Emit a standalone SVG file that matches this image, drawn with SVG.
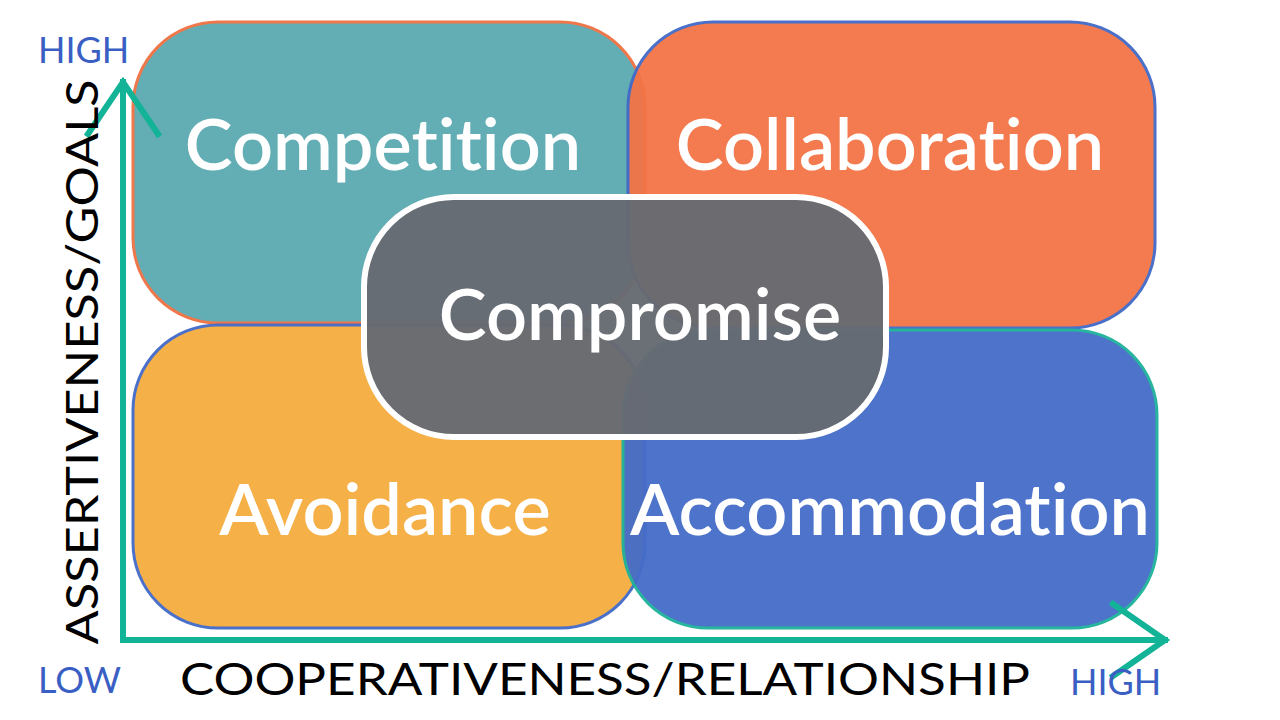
<svg xmlns="http://www.w3.org/2000/svg" width="1280" height="720" viewBox="0 0 1280 720">
<style>
.box{stroke-width:3;opacity:0.95}
.big{font-family:Lato,"Open Sans",sans-serif;font-size:72px;font-weight:600;fill:#fff;text-anchor:middle;font-variant-ligatures:none}
.ax{stroke:#13B398;stroke-width:6;fill:none;stroke-linecap:square}
.lbl{font-family:Lato,"Open Sans",sans-serif;font-size:44px;fill:#000}
.hl{font-family:Lato,"Open Sans",sans-serif;font-size:36px;fill:#3A5FC4}
</style>
<rect width="1280" height="720" fill="#fff"/>
<g id="competition"><rect class="box" x="133" y="22" width="512" height="301" rx="85" fill="#5BA9B0" stroke="#F07040"/><text class="big" x="383" y="170">Competition</text></g>
<g id="collaboration"><rect class="box" x="628" y="22" width="527" height="306" rx="85" fill="#F37446" stroke="#4169C8"/><text class="big" x="890" y="170">Collaboration</text></g>
<g id="avoidance"><rect class="box" x="133" y="325" width="512" height="303" rx="85" fill="#F5AC3F" stroke="#4169C8"/><text class="big" x="385" y="535">Avoidance</text></g>
<g id="accommodation"><rect class="box" x="623" y="330" width="534" height="298" rx="85" fill="#456CC8" stroke="#1CB29A"/><text class="big" x="890" y="535">Accommodation</text></g>
<g id="compromise"><rect x="364" y="197" width="522" height="240" rx="90" fill="#666A72" fill-opacity="0.97" stroke="#fff" stroke-width="6"/><text class="big" x="640" y="340">Compromise</text></g>
<g id="connectors">
<path class="ax" d="M123 640 V82 M88 134 L123 82 L158 134"/>
<path class="ax" d="M123 640 H1165 M1113 604 L1165 640 L1113 676"/>
</g>
<text class="lbl" transform="translate(98 362) rotate(-90)" text-anchor="middle" textLength="565" lengthAdjust="spacingAndGlyphs">ASSERTIVENESS/GOALS</text>
<text class="lbl" x="605" y="695" text-anchor="middle" textLength="850" lengthAdjust="spacingAndGlyphs">COOPERATIVENESS/RELATIONSHIP</text>
<text class="hl" x="38" y="63">HIGH</text>
<text class="hl" x="38" y="693">LOW</text>
<text class="hl" x="1070" y="695">HIGH</text>
</svg>
